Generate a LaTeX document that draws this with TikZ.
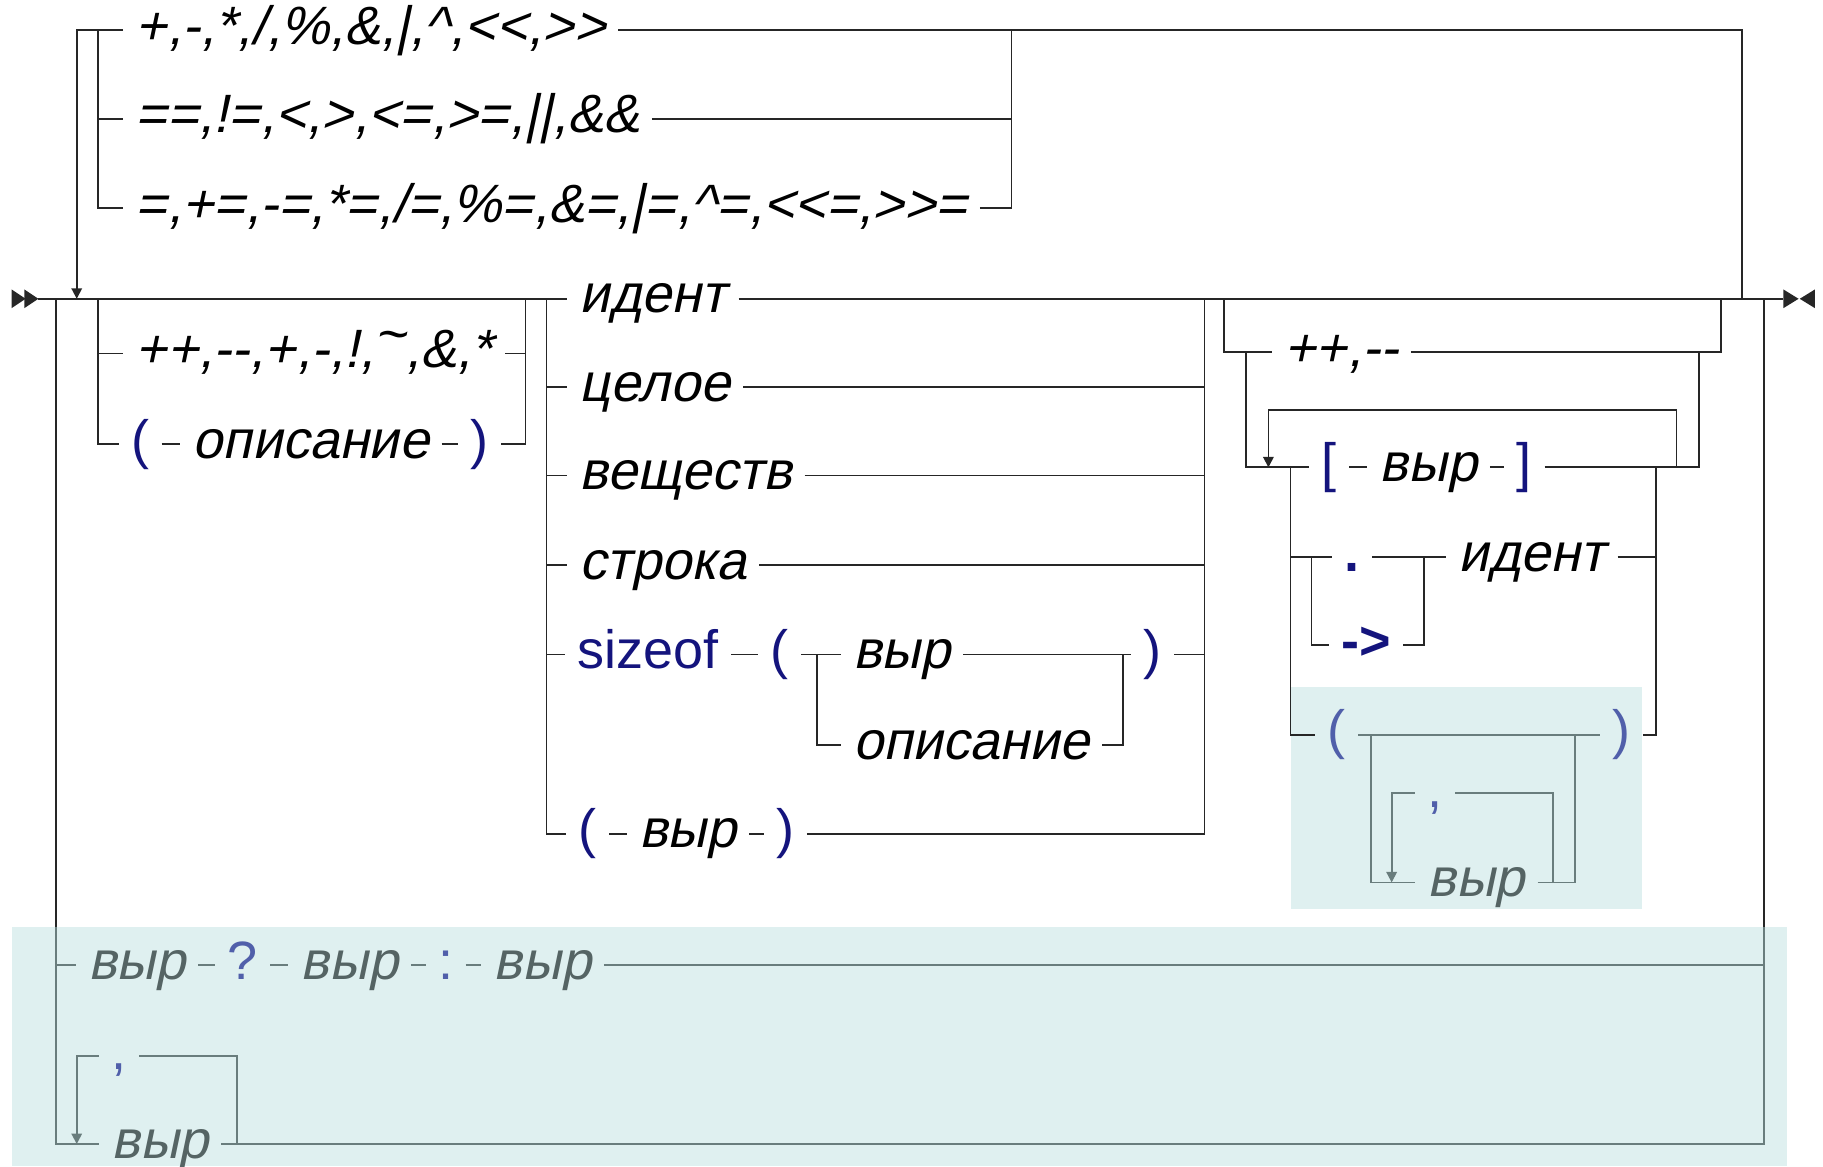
\documentclass[tikz,border=0pt]{standalone}
\usepackage{fontspec}
\usetikzlibrary{arrows.meta}
\newfontfamily\rrfont{Liberation Sans}
\newfontfamily\rrobl{Liberation Sans}[FakeSlant=0.21]
\newcommand\rrsize{\fontsize{13.2}{15}\selectfont}
\definecolor{navyt}{RGB}{20,20,125}
\definecolor{bgtint}{RGB}{223,240,240}
\definecolor{slate}{RGB}{85,100,100}
\definecolor{slateline}{RGB}{105,125,125}
\definecolor{slblue}{RGB}{80,95,170}

\begin{document}
\begin{tikzpicture}[x=0.01cm, y=-0.01cm, line width=0.45pt, color=black!85,
  every node/.style={anchor=west, inner xsep=0.1cm, inner ysep=0pt, text height=9.5pt, text depth=2.6pt},
  nt/.style={font=\rrobl\rrsize, text=black},
  tm/.style={font=\rrfont\rrsize, text=navyt},
  gnt/.style={font=\rrobl\rrsize, text=slate},
  gtm/.style={font=\rrfont\rrsize, text=slblue},
  gl/.style={draw=slateline},
  arr/.style={-{Triangle[width=0.09cm,length=0.09cm]}}]
	\useasboundingbox (0,0) rectangle (1568,1003);
	\fill[bgtint] (10,797) rectangle (1537,1003);
	\fill[bgtint] (1110,591) rectangle (1412,782);

	% junctions
	\coordinate (entry) at (33,257);
	\coordinate (exit) at (1534,257);
	\coordinate (lp) at (66,257);
	\coordinate (j1) at (84,26);
	\coordinate (j2) at (870,26);
	\coordinate (rp) at (1498,257);
	\coordinate (aa) at (48,257);
	\coordinate (ac) at (48,797);
	\coordinate (ab) at (1517,257);
	\coordinate (ad) at (1517,797);
	\coordinate (pa) at (84,257);
	\coordinate (pb) at (452,257);
	\coordinate (qa) at (470,257);
	\coordinate (qb) at (1036,257);
	\coordinate (sa) at (703,563);
	\coordinate (sb) at (966,563);
	\coordinate (ua) at (1053,257);
	\coordinate (ub) at (1480,257);
	\coordinate (ka) at (1072,303);
	\coordinate (kb) at (1461,303);
	\coordinate (kl) at (1091,402);
	\coordinate (kt) at (1442,353);
	\coordinate (kr) at (1442,402);
	\coordinate (na) at (1110,402);
	\coordinate (nb) at (1424,402);
	\coordinate (da) at (1128,479);
	\coordinate (db) at (1225,479);
	\coordinate (ca) at (1179,632);
	\coordinate (cb) at (1355,632);
	\coordinate (cl) at (1197,759);
	\coordinate (cr) at (1336,759);
	\coordinate (la) at (66,984);
	\coordinate (lr) at (204,984);

	% operators
	\node[nt] (op1) at (106,26) {+,-,*,/,\%,\&,|,\textasciicircum,<<,>>\ };
	\node[nt] (op2) at (106,102) {==,!=,<,>,<=,>=,||,\&\&\ };
	\node[nt] (op3) at (106,179) {=,+=,-=,*=,/=,\%=,\&=,|=,\textasciicircum=,<<=,>>=\ };

	% prefix
	\node[nt] (pre1) at (106,304) {++,--,+,-,!,\raisebox{0.28em}{\textasciitilde},\&,*};
	\node[tm] (lp1) at (102,382) {(};
	\node[nt] (desc1) at (155,382) {описание};
	\node[tm] (rp1) at (394,382) {)};

	% primary
	\node[nt] (id1) at (488,257) {идент};
	\node[nt] (int) at (488,333) {целое};
	\node[nt] (real) at (488,409) {веществ};
	\node[nt] (str) at (488,486) {строка};
	\node[tm] (sz) at (486,563) {sizeof};
	\node[tm] (lp2) at (652,563) {(};
	\node[nt] (sv) at (723,563) {выр};
	\node[nt] (sd) at (723,641) {описание};
	\node[tm] (rp2) at (973,563) {)};
	\node[tm] (lp3) at (487,717) {(};
	\node[nt] (pv) at (539,717) {выр};
	\node[tm] (rp3) at (657,717) {)};

	% postfix
	\node[nt] (inc) at (1094,303) {++,--};
	\node[tm] (lb) at (1126,402) {[};
	\node[nt] (bv) at (1176,402) {выр};
	\node[tm] (rb) at (1294,402) {]};
	\node[tm, font=\rrfont\rrsize\bfseries] (dot) at (1146,479) {.};
	\node[tm, font=\rrfont\rrsize\bfseries] (arw) at (1143,555) {->};
	\node[nt] (id2) at (1244,479) {идент};
	\node[gtm] (lpc) at (1131,632) {(};
	\node[gtm] (rpc) at (1376,632) {)};
	\node[gtm] (cm1) at (1217,682) {,};
	\node[gnt] (cv) at (1217,759) {выр};

	% ternary and list
	\node[gnt] (t1) at (65,830) {выр};
	\node[gtm] (qm) at (185,830) {?};
	\node[gnt] (t2) at (248,830) {выр};
	\node[gtm] (cl1) at (366,830) {:};
	\node[gnt] (t3) at (414,830) {выр};
	\node[gtm] (cm2) at (85,908) {,};
	\node[gnt] (l1) at (85,984) {выр};

	\draw (entry) -- (id1);
	\draw (id1) -- (exit);

	\draw[arr] (op1) -| (lp);
	\draw (j1) |- (op2);
	\draw (j1) |- (op3);
	\draw (op2) -| (j2);
	\draw (op3) -| (j2);
	\draw (op1) -| (rp);

	\draw (pa) |- (pre1);
	\draw (pa) |- (lp1);
	\draw (lp1) -- (desc1) -- (rp1);
	\draw (pre1) -| (pb);
	\draw (rp1) -| (pb);

	\foreach \n in {int,real,str,sz,lp3} \draw (qa) |- (\n);
	\foreach \n in {int,real,str,rp2,rp3} \draw (\n) -| (qb);
	\draw (sz) -- (lp2) -- (sv) -- (rp2);
	\draw (sa) |- (sd);
	\draw (sd) -| (sb);
	\draw (lp3) -- (pv) -- (rp3);

	\draw (ua) |- (inc);
	\draw (inc) -| (ub);
	\draw (ka) |- (lb);
	\draw (lb) -- (bv) -- (rb);
	\draw (rb) -| (kb);
	\draw[arr] (kr) -- (kt) -| (kl);
	\draw (na) |- (dot);
	\draw (na) |- (lpc);
	\draw (dot) -- (id2);
	\draw (da) |- (arw);
	\draw (arw) -| (db);
	\draw (id2) -| (nb);
	\draw (rpc) -| (nb);
	\draw[gl] (lpc) -- (rpc);
	\draw[gl] (ca) |- (cv);
	\draw[gl] (cv) -| (cb);
	\draw[gl] (cr) |- (cm1);
	\draw[gl,arr] (cm1) -| (cl);

	\draw (aa) -- (ac);
	\draw[gl] (ac) |- (t1);
	\draw[gl] (ac) |- (l1);
	\draw[gl] (t1) -- (qm) -- (t2) -- (cl1) -- (t3);
	\draw[gl] (t3) -| (ad);
	\draw[gl] (l1) -| (ad);
	\draw (ad) -- (ab);
	\draw[gl] (lr) |- (cm2);
	\draw[gl,arr] (cm2) -| (la);

	% entry and exit marks
	\fill (10,249) -- (22,257) -- (10,265) -- cycle;
	\fill (21,249) -- (33,257) -- (21,265) -- cycle;
	\fill (1534,249) -- (1547,257) -- (1534,265) -- cycle;
	\fill (1561,249) -- (1548,257) -- (1561,265) -- cycle;
\end{tikzpicture}
\end{document}
